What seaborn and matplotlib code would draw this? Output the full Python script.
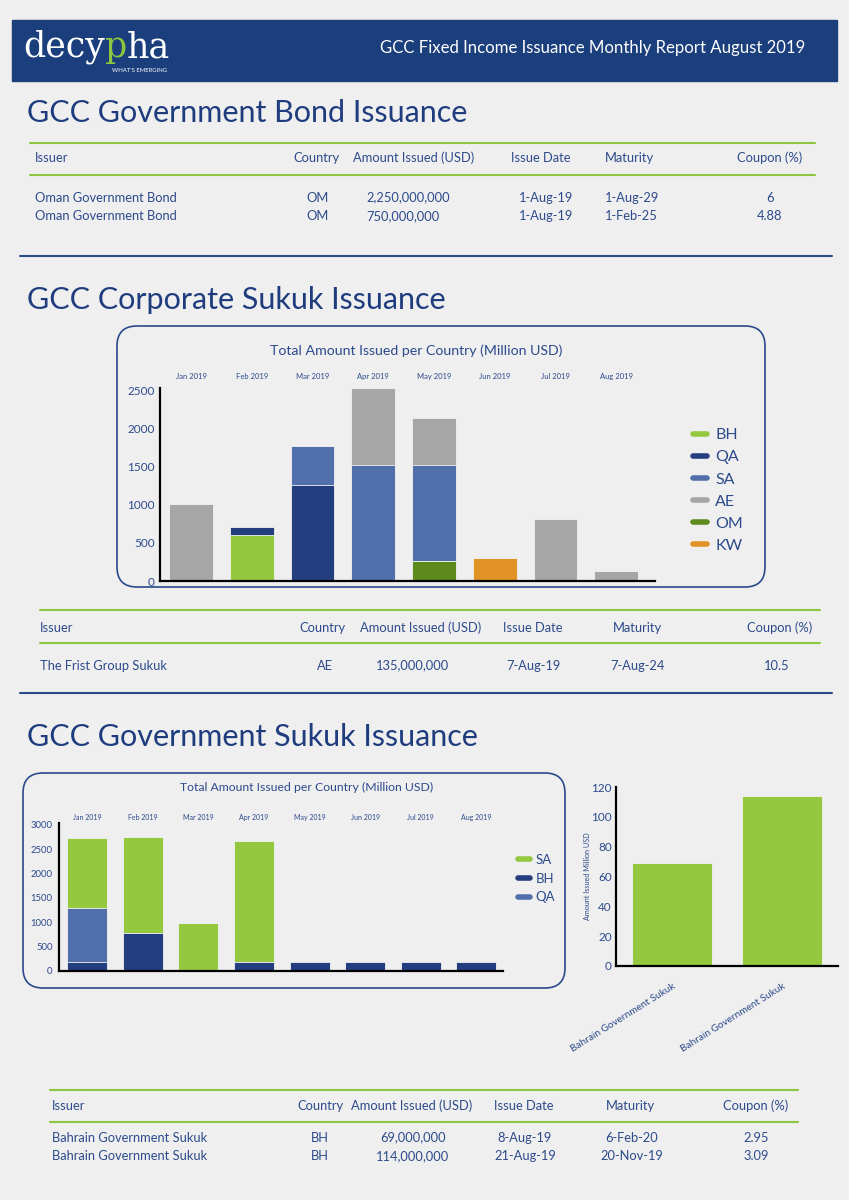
import numpy as np
import seaborn as sns
import matplotlib.pyplot as plt
from matplotlib.patches import FancyBboxPatch, Rectangle
from matplotlib.lines import Line2D

sns.set_theme(style="white")
plt.rcParams['font.family'] = ['Lato', 'DejaVu Sans']

NAVY = "#1f3d7e"
TXT = "#2c4a8c"
GREEN_LINE = "#8dc63f"
BG = "#efefef"

months = ["Jan 2019", "Feb 2019", "Mar 2019", "Apr 2019",
          "May 2019", "Jun 2019", "Jul 2019", "Aug 2019"]

# corporate sukuk, million USD, stacked bottom -> top
corp_layers = ["OM", "KW", "BH", "QA", "SA", "AE"]
corp_om = [0, 0, 0, 0, 265, 0, 0, 0]
corp_kw = [0, 0, 0, 0, 0, 300, 0, 0]
corp_bh = [0, 610, 0, 0, 0, 0, 0, 0]
corp_qa = [0, 100, 1265, 0, 0, 0, 0, 0]
corp_sa = [0, 0, 510, 1520, 1265, 0, 0, 0]
corp_ae = [1015, 0, 0, 1015, 608, 0, 810, 135]
corp_colors = {"BH": "#93c83f", "QA": "#233e7f", "SA": "#5170ab",
               "AE": "#a6a6a6", "OM": "#5d8a1c", "KW": "#e29326"}
corp_legend = ["BH", "QA", "SA", "AE", "OM", "KW"]

# government sukuk, million USD, stacked bottom -> top
gov_layers = ["BH", "QA", "SA"]
gov_bh = [180, 790, 0, 185, 183, 183, 183, 183]
gov_qa = [1115, 0, 0, 0, 0, 0, 0, 0]
gov_sa = [1440, 1965, 990, 2495, 0, 0, 0, 0]
gov_colors = {"SA": "#93c83f", "BH": "#233e7f", "QA": "#5170ab"}
gov_legend = ["SA", "BH", "QA"]

# august bahrain issues
bh_issuers = ["Bahrain Government Sukuk", "Bahrain Government Sukuk"]
bh_amounts = [69, 114]

# tables
headers = ["Issuer", "Country", "Amount Issued (USD)", "Issue Date", "Maturity", "Coupon (%)"]
bond_rows = [["Oman Government Bond", "OM", "2,250,000,000", "1-Aug-19", "1-Aug-29", "6"],
             ["Oman Government Bond", "OM", "750,000,000", "1-Aug-19", "1-Feb-25", "4.88"]]
corp_rows = [["The Frist Group Sukuk", "AE", "135,000,000", "7-Aug-19", "7-Aug-24", "10.5"]]
gov_rows = [["Bahrain Government Sukuk", "BH", "69,000,000", "8-Aug-19", "6-Feb-20", "2.95"],
            ["Bahrain Government Sukuk", "BH", "114,000,000", "21-Aug-19", "20-Nov-19", "3.09"]]

W, H = 849, 1200
fig = plt.figure(figsize=(W / 100, H / 100), dpi=100, facecolor=BG)

bg = fig.add_axes([0, 0, 1, 1])
bg.set_xlim(0, W)
bg.set_ylim(H, 0)
bg.axis("off")

def fax(l, t, r, b):
    return fig.add_axes([l / W, 1 - b / H, (r - l) / W, (b - t) / H])

# header band
bg.add_patch(Rectangle((12, 20), 825, 61, color="#1b3e7d"))
t1 = bg.text(23, 57, "decy", color="white", fontsize=25, va="baseline",
             family="DejaVu Serif")
t2 = bg.annotate("p", xy=(1, 0), xycoords=t1, va="bottom", ha="left",
                 color="#8dc63f", fontsize=25, family="DejaVu Serif")
bg.annotate("ha", xy=(1, 0), xycoords=t2, va="bottom", ha="left",
            color="white", fontsize=25, family="DejaVu Serif")
bg.text(112, 70, "WHAT'S EMERGING", color="white", fontsize=4.3, va="center")
bg.text(805, 48, "GCC Fixed Income Issuance Monthly Report August 2019",
        color="white", fontsize=12.1, ha="right", va="center")

# section titles
for y, s in [(122, "GCC Government Bond Issuance"),
             (309, "GCC Corporate Sukuk Issuance"),
             (746, "GCC Government Sukuk Issuance")]:
    bg.text(27, y, s, color=NAVY, fontsize=22, va="baseline")

# dividers
for y in [256, 693]:
    bg.plot([20, 832], [y, y], color="#2b4a8b", lw=1.5)


def table(x0, x1, top, bottom, hy, rys, rows, hx, hha, cx, cha):
    bg.plot([x0, x1], [top, top], color=GREEN_LINE, lw=1.5)
    bg.plot([x0, x1], [bottom, bottom], color=GREEN_LINE, lw=1.5)
    for x, ha, s in zip(hx, hha, headers):
        bg.text(x, hy + 4.5, s, color=TXT, fontsize=9.3, ha=ha, va="baseline")
    for ry, row in zip(rys, rows):
        for x, ha, s in zip(cx, cha, row):
            bg.text(x, ry + 4.5, s, color=TXT, fontsize=9.3, ha=ha, va="baseline")


table(30, 815, 143, 175, 158, [197, 216], bond_rows,
      [35, 316, 414, 541, 605, 770], ["left", "center", "center", "center", "left", "center"],
      [35, 318, 366, 573, 605, 770], ["left", "center", "left", "right", "left", "center"])
table(40, 820, 610, 643, 627, [665], corp_rows,
      [40, 322, 421, 533, 637, 780], ["left", "center", "center", "center", "center", "center"],
      [40, 325, 413, 533, 637, 777], ["left", "center", "center", "center", "center", "center"])
table(50, 798, 1090, 1122, 1106, [1137, 1156], gov_rows,
      [52, 320, 412, 524, 630, 756], ["left", "center", "center", "center", "center", "center"],
      [52, 320, 413, 525, 632, 756], ["left", "center", "center", "center", "center", "center"])

# chart boxes
for (x, y, w, h) in [(117, 326, 648, 261), (23, 773, 542, 215)]:
    bg.add_patch(FancyBboxPatch((x, y), w, h, boxstyle="round,pad=0,rounding_size=20",
                                fc="none", ec="#2b4a8b", lw=1.2))
bg.text(416, 351, "Total Amount Issued per Country (Million USD)", color=TXT,
        fontsize=10.2, ha="center", va="center")
bg.text(307, 787, "Total Amount Issued per Country (Million USD)", color=TXT,
        fontsize=8.8, ha="center", va="center")


def stacked(ax, layers, names, colors):
    cum = np.cumsum(np.array(layers, dtype=float), axis=0)
    for i in range(len(layers) - 1, -1, -1):
        sns.barplot(x=months, y=cum[i], color=colors[names[i]], saturation=1,
                    width=0.72, edgecolor="#f2f2f2", linewidth=0.6, ax=ax)


def style(ax, xfs, ypad, xpad, yfs):
    ax.set_facecolor("none")
    sns.despine(ax=ax)
    for s in ["left", "bottom"]:
        ax.spines[s].set_color("black")
        ax.spines[s].set_linewidth(1.6)
    ax.tick_params(axis="y", length=0, labelsize=yfs, labelcolor=TXT, pad=ypad)
    ax.tick_params(axis="x", length=0, labelsize=xfs, labelcolor=TXT, pad=xpad)
    ax.set_xlabel("")
    ax.set_ylabel("")


# corporate chart
ax1 = fax(160, 388, 655, 581)
stacked(ax1, [corp_om, corp_kw, corp_bh, corp_qa, corp_sa, corp_ae], corp_layers, corp_colors)
ax1.set_xlim(-0.51, 7.64)
ax1.set_ylim(0, 2535)
ax1.set_yticks(range(0, 2501, 500))
ax1.xaxis.tick_top()
style(ax1, 5.5, 4, 5.5, 8.5)
ax1.legend([Line2D([0], [0], color=corp_colors[c], lw=4, solid_capstyle="round") for c in corp_legend],
           corp_legend, loc="upper left", bbox_to_anchor=(693 / W, 1 - 428 / H),
           bbox_transform=fig.transFigure, frameon=False, handlelength=0.9,
           handletextpad=0.5, labelspacing=0.5, fontsize=11.5, labelcolor=TXT,
           borderaxespad=0, borderpad=0)

# government chart
ax2 = fax(59, 823, 503, 971)
stacked(ax2, [gov_bh, gov_qa, gov_sa], gov_layers, gov_colors)
ax2.set_xlim(-0.51, 7.48)
ax2.set_ylim(0, 3040)
ax2.set_yticks(range(0, 3001, 500))
ax2.xaxis.tick_top()
style(ax2, 5, 4.5, 1.5, 6.8)
ax2.legend([Line2D([0], [0], color=gov_colors[c], lw=4, solid_capstyle="round") for c in gov_legend],
           gov_legend, loc="upper left", bbox_to_anchor=(518 / W, 1 - 854 / H),
           bbox_transform=fig.transFigure, frameon=False, handlelength=0.9,
           handletextpad=0.45, labelspacing=0.5, fontsize=9.5, labelcolor=TXT,
           borderaxespad=0, borderpad=0)

# bahrain chart
ax3 = fax(616, 787, 838, 966)
sns.barplot(x=[0, 1], y=bh_amounts, color="#93c83f", saturation=1, width=0.73,
            edgecolor="#f2f2f2", linewidth=0.6, ax=ax3)
ax3.set_xlim(-0.51, 1.51)
ax3.set_ylim(0, 120)
ax3.set_yticks(range(0, 121, 20))
style(ax3, 7.2, 3, 11, 8.5)
ax3.set_xticks([0, 1])
ax3.set_xticklabels(bh_issuers, rotation=32, ha="right", rotation_mode="anchor")
ax3.set_ylabel("Amount Issued Million USD", fontsize=5.2, color=TXT, labelpad=0.5)

fig.savefig("out.png", dpi=100, facecolor=BG)
